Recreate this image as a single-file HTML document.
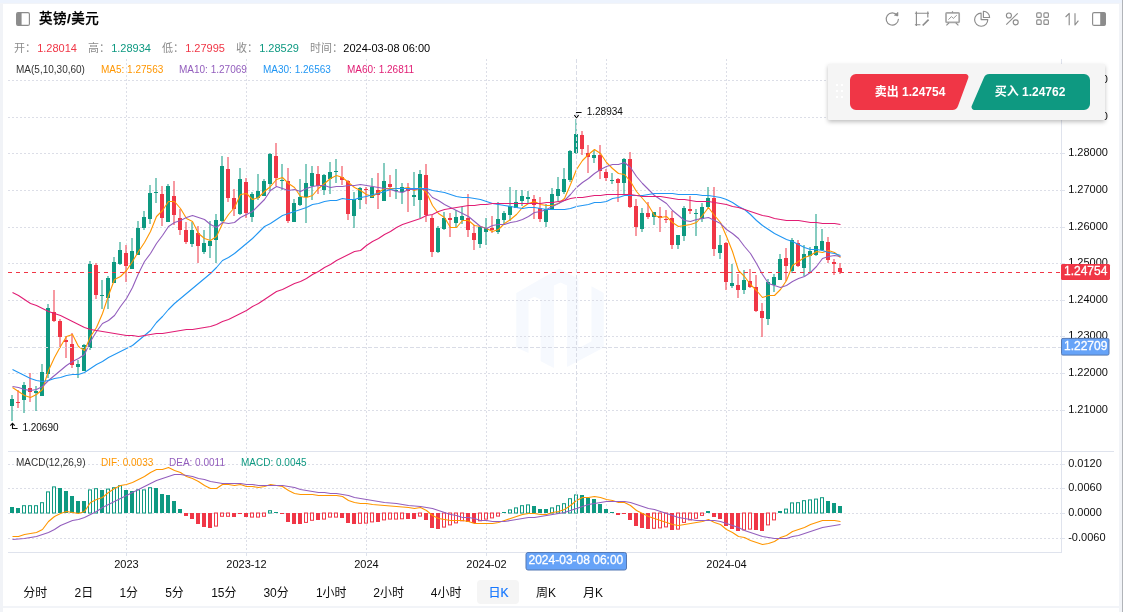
<!DOCTYPE html>
<html lang="zh-CN"><head><meta charset="utf-8"><title>英镑/美元</title>
<style>
html,body{margin:0;padding:0}
body{width:1123px;height:612px;overflow:hidden;position:relative;background:#fff;font-family:"Liberation Sans","Noto Sans CJK SC",sans-serif;color:#1f1f1f}
.abs{position:absolute}
svg text{font-family:"Liberation Sans","Noto Sans CJK SC",sans-serif}
.title{left:39px;top:8.7px;font-size:13.5px;letter-spacing:0.5px;font-weight:500;line-height:20px;color:#000;white-space:nowrap;-webkit-text-stroke:0.25px #000}
.info{left:15px;top:40px;font-size:11px;line-height:16px;white-space:nowrap;color:#8c8c8c}
.info span.i{position:absolute;top:0;white-space:nowrap}
.info b{font-weight:normal}
.info .r{color:#f03646} .info .g{color:#0e9981} .info .k{color:#000}
.tabs{left:13px;top:580px;height:24px;white-space:nowrap;font-size:12px}
.tab{position:absolute;top:0;height:24px;line-height:26px;padding:0 10px;border-radius:4px;color:#0d0d0d}
.tab.on{background:#f5f5f5;color:#1677ff;padding:0 10.3px 0 11.3px;-webkit-text-stroke:0.2px #1677ff}
.panel{left:828px;top:64px;width:276.5px;height:56px;background:#f5f5f5;border-radius:1px;box-shadow:0 2px 4px rgba(0,0,0,.25)}
.btn{position:absolute;top:10px;height:36px;line-height:36px;color:#fff;font-size:12px;font-weight:bold;text-align:center;white-space:nowrap}
</style></head>
<body>
<div class="abs" style="left:0;top:0;width:1123px;height:3px;background:#edf3fd"></div>
<div class="abs" style="left:0;top:3px;width:1123px;height:1px;background:#f2f4f8"></div>
<div class="abs" style="left:0;top:4px;width:3px;height:608px;background:#f1f3f7"></div>
<div class="abs" style="left:1119px;top:4px;width:4px;height:608px;background:#f2f4f8"></div>
<div class="abs" style="left:1122px;top:0;width:1px;height:612px;background:#b1b4b9"></div>
<div class="abs" style="left:3px;top:606px;width:1116px;height:2px;background:#f2f4f8"></div>

<svg class="abs" style="left:0;top:0" width="1123" height="40" viewBox="0 0 1123 40" fill="none" stroke="#8c8c8c" stroke-width="1.15" stroke-linejoin="round">
  <!-- left panel icon -->
  <rect x="16.6" y="12.6" width="12.8" height="12.8" rx="1.5"/>
  <path d="M17 13.5 a1 1 0 0 1 1 -1 h3.6 v13 h-3.6 a1 1 0 0 1 -1 -1 z" fill="#8c8c8c" stroke="none"/>
  <!-- refresh -->
  <path d="M897.2 15.4 A6.1 6.1 0 1 0 898.4 19.3" stroke-linecap="round"/>
  <path d="M898 12.3 L897.9 16 L894.3 15.2 Z" fill="#8c8c8c" stroke-width="0.6"/>
  <!-- edit box -->
  <path d="M916.4 11.6 V26 M914.9 13.2 H929 M927.8 11.6 V17.6 M914.9 24.7 H920.4"/>
  <path d="M922.7 25.5 L928.6 19.6" stroke-width="1.7"/>
  <!-- presentation -->
  <rect x="946" y="12.9" width="13.2" height="9.4" rx="0.8" stroke="#a6a6a6" stroke-width="1.7"/>
  <path d="M952.5 11.2 V12.6 M949 22.8 L946.4 25.4 M955.8 22.8 L958.4 25.4" />
  <path d="M948.4 19.6 L951.5 16.6 L953.3 18.4 L956.8 15.2" stroke-width="0.9"/>
  <!-- pie -->
  <path d="M981.1 13.1 A6.6 6.6 0 1 0 987.8 19.6 H981.1 Z"/>
  <path d="M983.4 11.3 A6.1 6.1 0 0 1 989.6 17.5 H983.4 Z"/>
  <!-- percent -->
  <circle cx="1008.9" cy="15.5" r="2.5"/>
  <circle cx="1015.7" cy="22.3" r="2.5"/>
  <path d="M1017.7 13.3 L1006.3 24.7"/>
  <!-- grid -->
  <rect x="1036.7" y="12.8" width="4.5" height="4.5" rx="1"/>
  <rect x="1043.9" y="12.8" width="4.5" height="4.5" rx="1"/>
  <rect x="1036.7" y="19.9" width="4.5" height="4.5" rx="1"/>
  <rect x="1043.9" y="19.9" width="4.5" height="4.5" rx="1"/>
  <!-- sort -->
  <path d="M1069.2 25.2 V13.3 L1065.6 17 M1075 13.2 V25 L1078.4 20.6"/>
  <!-- right panel icon -->
  <rect x="1092.6" y="12.6" width="12.8" height="12.8" rx="1.5"/>
  <path d="M1100.2 12.5 h3.8 a1.5 1.5 0 0 1 1.5 1.5 v10 a1.5 1.5 0 0 1 -1.5 1.5 h-3.8 z" fill="#8c8c8c" stroke="none"/>
</svg>

<div class="abs title">英镑<b>/</b>美元</div>
<div class="abs info">
<span class="i" style="left:-1px">开：</span><span class="i r" style="left:22.2px">1.28014</span>
<span class="i" style="left:73px">高：</span><span class="i g" style="left:96.2px">1.28934</span>
<span class="i" style="left:147px">低：</span><span class="i r" style="left:170.2px">1.27995</span>
<span class="i" style="left:221px">收：</span><span class="i g" style="left:244.2px">1.28529</span>
<span class="i" style="left:295px">时间：</span><span class="i k" style="left:328.3px">2024-03-08 06:00</span>
</div>
<svg class="abs" style="left:0;top:0" width="1123" height="612" viewBox="0 0 1123 612">
<path fill="#f6f9fe" d="M516.3,292.9 L528.5,285.9 L528.5,353.1 L516.3,347.4Z M528.5,285.9 L540.7,279.1 L540.7,299.5 L534.5,296.7 L528.5,299.5Z M540.7,279.1 L553.9,271.7 L553.9,367.9 L540.7,361.2Z M553.9,271.7 L559.5,268.5 L567.1,272.8 L567.1,285.4 L560.5,282.6 L553.9,285.4Z M567.1,272.8 L578.3,278.8 L578.3,361.0 L567.1,367.0Z M591.5,286.3 L603.7,292.9 L603.7,347.4 L578.3,361.0 L578.3,348.4 L591.5,341.2Z"/>
<line x1="8" x2="1061" y1="80.5" y2="80.5" stroke="#dcdee7" stroke-width="1" stroke-dasharray="2 2"/>
<line x1="8" x2="1061" y1="117.5" y2="117.5" stroke="#dcdee7" stroke-width="1" stroke-dasharray="2 2"/>
<line x1="8" x2="1061" y1="153.5" y2="153.5" stroke="#dcdee7" stroke-width="1" stroke-dasharray="2 2"/>
<line x1="8" x2="1061" y1="190.5" y2="190.5" stroke="#dcdee7" stroke-width="1" stroke-dasharray="2 2"/>
<line x1="8" x2="1061" y1="227.5" y2="227.5" stroke="#dcdee7" stroke-width="1" stroke-dasharray="2 2"/>
<line x1="8" x2="1061" y1="263.5" y2="263.5" stroke="#dcdee7" stroke-width="1" stroke-dasharray="2 2"/>
<line x1="8" x2="1061" y1="300.5" y2="300.5" stroke="#dcdee7" stroke-width="1" stroke-dasharray="2 2"/>
<line x1="8" x2="1061" y1="336.5" y2="336.5" stroke="#dcdee7" stroke-width="1" stroke-dasharray="2 2"/>
<line x1="8" x2="1061" y1="373.5" y2="373.5" stroke="#dcdee7" stroke-width="1" stroke-dasharray="2 2"/>
<line x1="8" x2="1061" y1="410.5" y2="410.5" stroke="#dcdee7" stroke-width="1" stroke-dasharray="2 2"/>
<line x1="8" x2="1061" y1="464.5" y2="464.5" stroke="#dcdee7" stroke-width="1" stroke-dasharray="2 2"/>
<line x1="8" x2="1061" y1="488.5" y2="488.5" stroke="#dcdee7" stroke-width="1" stroke-dasharray="2 2"/>
<line x1="8" x2="1061" y1="513.5" y2="513.5" stroke="#dcdee7" stroke-width="1" stroke-dasharray="2 2"/>
<line x1="8" x2="1061" y1="538.5" y2="538.5" stroke="#dcdee7" stroke-width="1" stroke-dasharray="2 2"/>
<line x1="126.5" x2="126.5" y1="59" y2="451" stroke="#dcdee7" stroke-width="1" stroke-dasharray="2 2"/>
<line x1="126.5" x2="126.5" y1="452" y2="552" stroke="#dcdee7" stroke-width="1" stroke-dasharray="2 2"/>
<line x1="246.5" x2="246.5" y1="59" y2="451" stroke="#dcdee7" stroke-width="1" stroke-dasharray="2 2"/>
<line x1="246.5" x2="246.5" y1="452" y2="552" stroke="#dcdee7" stroke-width="1" stroke-dasharray="2 2"/>
<line x1="366.5" x2="366.5" y1="59" y2="451" stroke="#dcdee7" stroke-width="1" stroke-dasharray="2 2"/>
<line x1="366.5" x2="366.5" y1="452" y2="552" stroke="#dcdee7" stroke-width="1" stroke-dasharray="2 2"/>
<line x1="486.5" x2="486.5" y1="59" y2="451" stroke="#dcdee7" stroke-width="1" stroke-dasharray="2 2"/>
<line x1="486.5" x2="486.5" y1="452" y2="552" stroke="#dcdee7" stroke-width="1" stroke-dasharray="2 2"/>
<line x1="606.5" x2="606.5" y1="59" y2="451" stroke="#dcdee7" stroke-width="1" stroke-dasharray="2 2"/>
<line x1="606.5" x2="606.5" y1="452" y2="552" stroke="#dcdee7" stroke-width="1" stroke-dasharray="2 2"/>
<line x1="726.5" x2="726.5" y1="59" y2="451" stroke="#dcdee7" stroke-width="1" stroke-dasharray="2 2"/>
<line x1="726.5" x2="726.5" y1="452" y2="552" stroke="#dcdee7" stroke-width="1" stroke-dasharray="2 2"/>
<rect x="8" y="451" width="1106" height="1" fill="#dfe3ed"/>
<rect x="1061" y="59" width="1" height="494" fill="#dfe3ed"/>
<rect x="8" y="552" width="1054" height="1" fill="#dfe3ed"/>
<rect x="1062" y="80" width="3" height="1" fill="#dfe3ed"/>
<rect x="1062" y="117" width="3" height="1" fill="#dfe3ed"/>
<rect x="1062" y="153" width="3" height="1" fill="#dfe3ed"/>
<rect x="1062" y="190" width="3" height="1" fill="#dfe3ed"/>
<rect x="1062" y="227" width="3" height="1" fill="#dfe3ed"/>
<rect x="1062" y="263" width="3" height="1" fill="#dfe3ed"/>
<rect x="1062" y="300" width="3" height="1" fill="#dfe3ed"/>
<rect x="1062" y="336" width="3" height="1" fill="#dfe3ed"/>
<rect x="1062" y="373" width="3" height="1" fill="#dfe3ed"/>
<rect x="1062" y="410" width="3" height="1" fill="#dfe3ed"/>
<rect x="1062" y="464" width="3" height="1" fill="#dfe3ed"/>
<rect x="1062" y="488" width="3" height="1" fill="#dfe3ed"/>
<rect x="1062" y="513" width="3" height="1" fill="#dfe3ed"/>
<rect x="1062" y="538" width="3" height="1" fill="#dfe3ed"/>
<rect x="126" y="553" width="1" height="3" fill="#dfe3ed"/>
<rect x="246" y="553" width="1" height="3" fill="#dfe3ed"/>
<rect x="366" y="553" width="1" height="3" fill="#dfe3ed"/>
<rect x="486" y="553" width="1" height="3" fill="#dfe3ed"/>
<rect x="606" y="553" width="1" height="3" fill="#dfe3ed"/>
<rect x="726" y="553" width="1" height="3" fill="#dfe3ed"/>
<rect x="11.5" y="395.0" width="1" height="26.0" fill="#0e9981"/>
<rect x="10" y="399.0" width="4" height="7.0" fill="#0e9981"/>
<rect x="17.5" y="390.0" width="1" height="18.0" fill="#f03646"/>
<rect x="16" y="402.0" width="4" height="1.0" fill="#f03646"/>
<rect x="23.5" y="382.0" width="1" height="31.0" fill="#0e9981"/>
<rect x="22" y="385.0" width="4" height="15.0" fill="#0e9981"/>
<rect x="29.5" y="373.0" width="1" height="29.0" fill="#f03646"/>
<rect x="28" y="388.0" width="4" height="4.0" fill="#f03646"/>
<rect x="35.5" y="386.0" width="1" height="25.0" fill="#0e9981"/>
<rect x="34" y="391.0" width="4" height="2.0" fill="#0e9981"/>
<rect x="41.5" y="364.0" width="1" height="32.0" fill="#0e9981"/>
<rect x="40" y="372.0" width="4" height="24.0" fill="#0e9981"/>
<rect x="47.5" y="304.0" width="1" height="74.0" fill="#0e9981"/>
<rect x="46" y="308.0" width="4" height="66.0" fill="#0e9981"/>
<rect x="53.5" y="290.0" width="1" height="32.0" fill="#f03646"/>
<rect x="52" y="312.0" width="4" height="9.0" fill="#f03646"/>
<rect x="59.5" y="319.0" width="1" height="29.0" fill="#f03646"/>
<rect x="58" y="321.0" width="4" height="16.0" fill="#f03646"/>
<rect x="65.5" y="336.0" width="1" height="22.0" fill="#f03646"/>
<rect x="64" y="340.0" width="4" height="2.0" fill="#f03646"/>
<rect x="71.5" y="333.0" width="1" height="35.0" fill="#f03646"/>
<rect x="70" y="344.0" width="4" height="21.0" fill="#f03646"/>
<rect x="77.5" y="360.0" width="1" height="18.0" fill="#0e9981"/>
<rect x="76" y="364.0" width="4" height="3.0" fill="#0e9981"/>
<rect x="83.5" y="344.0" width="1" height="27.0" fill="#0e9981"/>
<rect x="82" y="345.0" width="4" height="26.0" fill="#0e9981"/>
<rect x="89.5" y="261.0" width="1" height="89.0" fill="#0e9981"/>
<rect x="88" y="264.0" width="4" height="84.0" fill="#0e9981"/>
<rect x="95.5" y="263.0" width="1" height="36.0" fill="#f03646"/>
<rect x="94" y="265.0" width="4" height="30.0" fill="#f03646"/>
<rect x="101.5" y="280.0" width="1" height="29.0" fill="#0e9981"/>
<rect x="100" y="295.0" width="4" height="1.0" fill="#0e9981"/>
<rect x="107.5" y="276.0" width="1" height="33.0" fill="#0e9981"/>
<rect x="106" y="278.0" width="4" height="20.0" fill="#0e9981"/>
<rect x="113.5" y="257.0" width="1" height="26.0" fill="#0e9981"/>
<rect x="112" y="262.0" width="4" height="21.0" fill="#0e9981"/>
<rect x="119.5" y="242.0" width="1" height="23.0" fill="#0e9981"/>
<rect x="118" y="250.0" width="4" height="14.0" fill="#0e9981"/>
<rect x="125.5" y="245.0" width="1" height="37.0" fill="#f03646"/>
<rect x="124" y="253.0" width="4" height="13.0" fill="#f03646"/>
<rect x="131.5" y="238.0" width="1" height="31.0" fill="#0e9981"/>
<rect x="130" y="251.0" width="4" height="18.0" fill="#0e9981"/>
<rect x="137.5" y="221.0" width="1" height="34.0" fill="#0e9981"/>
<rect x="136" y="228.0" width="4" height="27.0" fill="#0e9981"/>
<rect x="143.5" y="211.0" width="1" height="19.0" fill="#0e9981"/>
<rect x="142" y="217.0" width="4" height="11.0" fill="#0e9981"/>
<rect x="149.5" y="185.0" width="1" height="39.0" fill="#0e9981"/>
<rect x="148" y="193.0" width="4" height="26.0" fill="#0e9981"/>
<rect x="155.5" y="178.0" width="1" height="25.0" fill="#0e9981"/>
<rect x="154" y="192.0" width="4" height="1.0" fill="#0e9981"/>
<rect x="161.5" y="186.0" width="1" height="40.0" fill="#f03646"/>
<rect x="160" y="194.0" width="4" height="24.0" fill="#f03646"/>
<rect x="167.5" y="184.0" width="1" height="38.0" fill="#0e9981"/>
<rect x="166" y="186.0" width="4" height="36.0" fill="#0e9981"/>
<rect x="173.5" y="181.0" width="1" height="44.0" fill="#f03646"/>
<rect x="172" y="196.0" width="4" height="19.0" fill="#f03646"/>
<rect x="179.5" y="209.0" width="1" height="26.0" fill="#f03646"/>
<rect x="178" y="218.0" width="4" height="12.0" fill="#f03646"/>
<rect x="185.5" y="222.0" width="1" height="22.0" fill="#f03646"/>
<rect x="184" y="230.0" width="4" height="12.0" fill="#f03646"/>
<rect x="191.5" y="222.0" width="1" height="25.0" fill="#0e9981"/>
<rect x="190" y="230.0" width="4" height="14.0" fill="#0e9981"/>
<rect x="197.5" y="226.0" width="1" height="37.0" fill="#f03646"/>
<rect x="196" y="233.0" width="4" height="13.0" fill="#f03646"/>
<rect x="203.5" y="230.0" width="1" height="24.0" fill="#0e9981"/>
<rect x="202" y="243.0" width="4" height="9.0" fill="#0e9981"/>
<rect x="209.5" y="221.0" width="1" height="37.0" fill="#0e9981"/>
<rect x="208" y="241.0" width="4" height="5.0" fill="#0e9981"/>
<rect x="215.5" y="214.0" width="1" height="49.0" fill="#0e9981"/>
<rect x="214" y="220.0" width="4" height="20.0" fill="#0e9981"/>
<rect x="221.5" y="156.0" width="1" height="66.0" fill="#0e9981"/>
<rect x="220" y="166.0" width="4" height="55.0" fill="#0e9981"/>
<rect x="227.5" y="157.0" width="1" height="45.0" fill="#f03646"/>
<rect x="226" y="169.0" width="4" height="29.0" fill="#f03646"/>
<rect x="233.5" y="189.0" width="1" height="27.0" fill="#f03646"/>
<rect x="232" y="198.0" width="4" height="11.0" fill="#f03646"/>
<rect x="239.5" y="168.0" width="1" height="47.0" fill="#0e9981"/>
<rect x="238" y="179.0" width="4" height="35.0" fill="#0e9981"/>
<rect x="245.5" y="178.0" width="1" height="40.0" fill="#f03646"/>
<rect x="244" y="182.0" width="4" height="31.0" fill="#f03646"/>
<rect x="251.5" y="192.0" width="1" height="30.0" fill="#0e9981"/>
<rect x="250" y="194.0" width="4" height="23.0" fill="#0e9981"/>
<rect x="257.5" y="174.0" width="1" height="26.0" fill="#0e9981"/>
<rect x="256" y="191.0" width="4" height="7.0" fill="#0e9981"/>
<rect x="263.5" y="179.0" width="1" height="17.0" fill="#0e9981"/>
<rect x="262" y="181.0" width="4" height="15.0" fill="#0e9981"/>
<rect x="269.5" y="153.0" width="1" height="38.0" fill="#0e9981"/>
<rect x="268" y="154.0" width="4" height="30.0" fill="#0e9981"/>
<rect x="275.5" y="143.0" width="1" height="43.0" fill="#f03646"/>
<rect x="274" y="156.0" width="4" height="22.0" fill="#f03646"/>
<rect x="281.5" y="164.0" width="1" height="26.0" fill="#0e9981"/>
<rect x="280" y="180.0" width="4" height="1.0" fill="#0e9981"/>
<rect x="287.5" y="168.0" width="1" height="55.0" fill="#f03646"/>
<rect x="286" y="181.0" width="4" height="40.0" fill="#f03646"/>
<rect x="293.5" y="199.0" width="1" height="23.0" fill="#0e9981"/>
<rect x="292" y="203.0" width="4" height="19.0" fill="#0e9981"/>
<rect x="299.5" y="179.0" width="1" height="27.0" fill="#0e9981"/>
<rect x="298" y="197.0" width="4" height="8.0" fill="#0e9981"/>
<rect x="305.5" y="164.0" width="1" height="59.0" fill="#0e9981"/>
<rect x="304" y="183.0" width="4" height="14.0" fill="#0e9981"/>
<rect x="311.5" y="166.0" width="1" height="34.0" fill="#0e9981"/>
<rect x="310" y="173.0" width="4" height="13.0" fill="#0e9981"/>
<rect x="317.5" y="166.0" width="1" height="28.0" fill="#f03646"/>
<rect x="316" y="174.0" width="4" height="12.0" fill="#f03646"/>
<rect x="323.5" y="174.0" width="1" height="21.0" fill="#0e9981"/>
<rect x="322" y="175.0" width="4" height="15.0" fill="#0e9981"/>
<rect x="329.5" y="162.0" width="1" height="32.0" fill="#0e9981"/>
<rect x="328" y="172.0" width="4" height="7.0" fill="#0e9981"/>
<rect x="335.5" y="159.0" width="1" height="24.0" fill="#0e9981"/>
<rect x="334" y="171.0" width="4" height="1.0" fill="#0e9981"/>
<rect x="341.5" y="166.0" width="1" height="19.0" fill="#f03646"/>
<rect x="340" y="177.0" width="4" height="3.0" fill="#f03646"/>
<rect x="347.5" y="180.0" width="1" height="40.0" fill="#f03646"/>
<rect x="346" y="181.0" width="4" height="33.0" fill="#f03646"/>
<rect x="353.5" y="192.0" width="1" height="36.0" fill="#0e9981"/>
<rect x="352" y="199.0" width="4" height="17.0" fill="#0e9981"/>
<rect x="359.5" y="187.0" width="1" height="22.0" fill="#0e9981"/>
<rect x="358" y="188.0" width="4" height="12.0" fill="#0e9981"/>
<rect x="365.5" y="187.0" width="1" height="17.0" fill="#f03646"/>
<rect x="364" y="189.0" width="4" height="1.0" fill="#f03646"/>
<rect x="371.5" y="178.0" width="1" height="20.0" fill="#0e9981"/>
<rect x="370" y="187.0" width="4" height="11.0" fill="#0e9981"/>
<rect x="377.5" y="173.0" width="1" height="36.0" fill="#f03646"/>
<rect x="376" y="190.0" width="4" height="5.0" fill="#f03646"/>
<rect x="383.5" y="163.0" width="1" height="38.0" fill="#0e9981"/>
<rect x="382" y="181.0" width="4" height="20.0" fill="#0e9981"/>
<rect x="389.5" y="175.0" width="1" height="22.0" fill="#f03646"/>
<rect x="388" y="184.0" width="4" height="3.0" fill="#f03646"/>
<rect x="395.5" y="169.0" width="1" height="30.0" fill="#0e9981"/>
<rect x="394" y="190.0" width="4" height="1.0" fill="#0e9981"/>
<rect x="401.5" y="183.0" width="1" height="21.0" fill="#0e9981"/>
<rect x="400" y="187.0" width="4" height="5.0" fill="#0e9981"/>
<rect x="407.5" y="183.0" width="1" height="29.0" fill="#f03646"/>
<rect x="406" y="189.0" width="4" height="2.0" fill="#f03646"/>
<rect x="413.5" y="172.0" width="1" height="34.0" fill="#0e9981"/>
<rect x="412" y="195.0" width="4" height="2.0" fill="#0e9981"/>
<rect x="419.5" y="170.0" width="1" height="48.0" fill="#0e9981"/>
<rect x="418" y="174.0" width="4" height="26.0" fill="#0e9981"/>
<rect x="425.5" y="164.0" width="1" height="58.0" fill="#f03646"/>
<rect x="424" y="175.0" width="4" height="40.0" fill="#f03646"/>
<rect x="431.5" y="215.0" width="1" height="42.0" fill="#f03646"/>
<rect x="430" y="218.0" width="4" height="34.0" fill="#f03646"/>
<rect x="437.5" y="226.0" width="1" height="27.0" fill="#0e9981"/>
<rect x="436" y="228.0" width="4" height="24.0" fill="#0e9981"/>
<rect x="443.5" y="212.0" width="1" height="18.0" fill="#0e9981"/>
<rect x="442" y="218.0" width="4" height="11.0" fill="#0e9981"/>
<rect x="449.5" y="213.0" width="1" height="24.0" fill="#f03646"/>
<rect x="448" y="218.0" width="4" height="2.0" fill="#f03646"/>
<rect x="455.5" y="210.0" width="1" height="17.0" fill="#0e9981"/>
<rect x="454" y="217.0" width="4" height="6.0" fill="#0e9981"/>
<rect x="461.5" y="207.0" width="1" height="17.0" fill="#0e9981"/>
<rect x="460" y="216.0" width="4" height="4.0" fill="#0e9981"/>
<rect x="467.5" y="194.0" width="1" height="43.0" fill="#f03646"/>
<rect x="466" y="218.0" width="4" height="12.0" fill="#f03646"/>
<rect x="473.5" y="225.0" width="1" height="25.0" fill="#f03646"/>
<rect x="472" y="233.0" width="4" height="7.0" fill="#f03646"/>
<rect x="479.5" y="227.0" width="1" height="21.0" fill="#0e9981"/>
<rect x="478" y="227.0" width="4" height="17.0" fill="#0e9981"/>
<rect x="485.5" y="218.0" width="1" height="27.0" fill="#0e9981"/>
<rect x="484" y="228.0" width="4" height="4.0" fill="#0e9981"/>
<rect x="491.5" y="216.0" width="1" height="17.0" fill="#f03646"/>
<rect x="490" y="228.0" width="4" height="2.0" fill="#f03646"/>
<rect x="497.5" y="202.0" width="1" height="32.0" fill="#0e9981"/>
<rect x="496" y="219.0" width="4" height="13.0" fill="#0e9981"/>
<rect x="503.5" y="211.0" width="1" height="13.0" fill="#0e9981"/>
<rect x="502" y="213.0" width="4" height="7.0" fill="#0e9981"/>
<rect x="509.5" y="187.0" width="1" height="34.0" fill="#0e9981"/>
<rect x="508" y="206.0" width="4" height="9.0" fill="#0e9981"/>
<rect x="515.5" y="190.0" width="1" height="18.0" fill="#0e9981"/>
<rect x="514" y="202.0" width="4" height="6.0" fill="#0e9981"/>
<rect x="521.5" y="190.0" width="1" height="16.0" fill="#0e9981"/>
<rect x="520" y="196.0" width="4" height="5.0" fill="#0e9981"/>
<rect x="527.5" y="191.0" width="1" height="12.0" fill="#0e9981"/>
<rect x="526" y="197.0" width="4" height="2.0" fill="#0e9981"/>
<rect x="533.5" y="195.0" width="1" height="24.0" fill="#f03646"/>
<rect x="532" y="199.0" width="4" height="6.0" fill="#f03646"/>
<rect x="539.5" y="197.0" width="1" height="25.0" fill="#f03646"/>
<rect x="538" y="208.0" width="4" height="11.0" fill="#f03646"/>
<rect x="545.5" y="204.0" width="1" height="23.0" fill="#0e9981"/>
<rect x="544" y="209.0" width="4" height="13.0" fill="#0e9981"/>
<rect x="551.5" y="188.0" width="1" height="22.0" fill="#0e9981"/>
<rect x="550" y="194.0" width="4" height="16.0" fill="#0e9981"/>
<rect x="557.5" y="177.0" width="1" height="24.0" fill="#0e9981"/>
<rect x="556" y="189.0" width="4" height="7.0" fill="#0e9981"/>
<rect x="563.5" y="168.0" width="1" height="26.0" fill="#0e9981"/>
<rect x="562" y="179.0" width="4" height="13.0" fill="#0e9981"/>
<rect x="569.5" y="150.0" width="1" height="32.0" fill="#0e9981"/>
<rect x="568" y="151.0" width="4" height="29.0" fill="#0e9981"/>
<rect x="575.5" y="119.0" width="1" height="35.0" fill="#0e9981"/>
<rect x="574" y="134.0" width="4" height="19.0" fill="#0e9981"/>
<rect x="581.5" y="131.0" width="1" height="24.0" fill="#f03646"/>
<rect x="580" y="135.0" width="4" height="14.0" fill="#f03646"/>
<rect x="587.5" y="145.0" width="1" height="28.0" fill="#f03646"/>
<rect x="586" y="153.0" width="4" height="4.0" fill="#f03646"/>
<rect x="593.5" y="150.0" width="1" height="13.0" fill="#0e9981"/>
<rect x="592" y="155.0" width="4" height="3.0" fill="#0e9981"/>
<rect x="599.5" y="145.0" width="1" height="34.0" fill="#f03646"/>
<rect x="598" y="155.0" width="4" height="16.0" fill="#f03646"/>
<rect x="605.5" y="169.0" width="1" height="12.0" fill="#f03646"/>
<rect x="604" y="172.0" width="4" height="6.0" fill="#f03646"/>
<rect x="611.5" y="173.0" width="1" height="11.0" fill="#0e9981"/>
<rect x="610" y="180.0" width="4" height="1.0" fill="#0e9981"/>
<rect x="617.5" y="178.0" width="1" height="24.0" fill="#f03646"/>
<rect x="616" y="179.0" width="4" height="4.0" fill="#f03646"/>
<rect x="623.5" y="158.0" width="1" height="36.0" fill="#0e9981"/>
<rect x="622" y="159.0" width="4" height="24.0" fill="#0e9981"/>
<rect x="629.5" y="152.0" width="1" height="56.0" fill="#f03646"/>
<rect x="628" y="159.0" width="4" height="48.0" fill="#f03646"/>
<rect x="635.5" y="199.0" width="1" height="37.0" fill="#f03646"/>
<rect x="634" y="206.0" width="4" height="21.0" fill="#f03646"/>
<rect x="641.5" y="208.0" width="1" height="24.0" fill="#0e9981"/>
<rect x="640" y="213.0" width="4" height="16.0" fill="#0e9981"/>
<rect x="647.5" y="202.0" width="1" height="17.0" fill="#f03646"/>
<rect x="646" y="213.0" width="4" height="4.0" fill="#f03646"/>
<rect x="653.5" y="212.0" width="1" height="13.0" fill="#0e9981"/>
<rect x="652" y="212.0" width="4" height="5.0" fill="#0e9981"/>
<rect x="659.5" y="207.0" width="1" height="25.0" fill="#f03646"/>
<rect x="658" y="216.0" width="4" height="2.0" fill="#f03646"/>
<rect x="665.5" y="210.0" width="1" height="13.0" fill="#f03646"/>
<rect x="664" y="219.0" width="4" height="1.0" fill="#f03646"/>
<rect x="671.5" y="211.0" width="1" height="38.0" fill="#f03646"/>
<rect x="670" y="218.0" width="4" height="27.0" fill="#f03646"/>
<rect x="677.5" y="235.0" width="1" height="14.0" fill="#0e9981"/>
<rect x="676" y="235.0" width="4" height="10.0" fill="#0e9981"/>
<rect x="683.5" y="206.0" width="1" height="35.0" fill="#0e9981"/>
<rect x="682" y="208.0" width="4" height="28.0" fill="#0e9981"/>
<rect x="689.5" y="196.0" width="1" height="18.0" fill="#f03646"/>
<rect x="688" y="209.0" width="4" height="2.0" fill="#f03646"/>
<rect x="695.5" y="209.0" width="1" height="27.0" fill="#0e9981"/>
<rect x="694" y="213.0" width="4" height="1.0" fill="#0e9981"/>
<rect x="701.5" y="203.0" width="1" height="19.0" fill="#0e9981"/>
<rect x="700" y="207.0" width="4" height="12.0" fill="#0e9981"/>
<rect x="707.5" y="187.0" width="1" height="22.0" fill="#0e9981"/>
<rect x="706" y="198.0" width="4" height="9.0" fill="#0e9981"/>
<rect x="713.5" y="187.0" width="1" height="69.0" fill="#f03646"/>
<rect x="712" y="198.0" width="4" height="51.0" fill="#f03646"/>
<rect x="719.5" y="235.0" width="1" height="24.0" fill="#0e9981"/>
<rect x="718" y="245.0" width="4" height="8.0" fill="#0e9981"/>
<rect x="725.5" y="242.0" width="1" height="48.0" fill="#f03646"/>
<rect x="724" y="243.0" width="4" height="39.0" fill="#f03646"/>
<rect x="731.5" y="264.0" width="1" height="24.0" fill="#0e9981"/>
<rect x="730" y="283.0" width="4" height="3.0" fill="#0e9981"/>
<rect x="737.5" y="274.0" width="1" height="24.0" fill="#f03646"/>
<rect x="736" y="285.0" width="4" height="5.0" fill="#f03646"/>
<rect x="743.5" y="270.0" width="1" height="24.0" fill="#0e9981"/>
<rect x="742" y="280.0" width="4" height="10.0" fill="#0e9981"/>
<rect x="749.5" y="269.0" width="1" height="19.0" fill="#f03646"/>
<rect x="748" y="281.0" width="4" height="6.0" fill="#f03646"/>
<rect x="755.5" y="275.0" width="1" height="37.0" fill="#f03646"/>
<rect x="754" y="287.0" width="4" height="24.0" fill="#f03646"/>
<rect x="761.5" y="303.0" width="1" height="34.0" fill="#f03646"/>
<rect x="760" y="311.0" width="4" height="7.0" fill="#f03646"/>
<rect x="767.5" y="279.0" width="1" height="46.0" fill="#0e9981"/>
<rect x="766" y="282.0" width="4" height="37.0" fill="#0e9981"/>
<rect x="773.5" y="274.0" width="1" height="18.0" fill="#0e9981"/>
<rect x="772" y="277.0" width="4" height="8.0" fill="#0e9981"/>
<rect x="779.5" y="254.0" width="1" height="26.0" fill="#0e9981"/>
<rect x="778" y="259.0" width="4" height="21.0" fill="#0e9981"/>
<rect x="785.5" y="248.0" width="1" height="33.0" fill="#f03646"/>
<rect x="784" y="258.0" width="4" height="8.0" fill="#f03646"/>
<rect x="791.5" y="238.0" width="1" height="35.0" fill="#0e9981"/>
<rect x="790" y="240.0" width="4" height="31.0" fill="#0e9981"/>
<rect x="797.5" y="240.0" width="1" height="27.0" fill="#f03646"/>
<rect x="796" y="243.0" width="4" height="23.0" fill="#f03646"/>
<rect x="803.5" y="245.0" width="1" height="31.0" fill="#0e9981"/>
<rect x="802" y="254.0" width="4" height="14.0" fill="#0e9981"/>
<rect x="809.5" y="247.0" width="1" height="26.0" fill="#0e9981"/>
<rect x="808" y="251.0" width="4" height="5.0" fill="#0e9981"/>
<rect x="815.5" y="214.0" width="1" height="42.0" fill="#0e9981"/>
<rect x="814" y="246.0" width="4" height="9.0" fill="#0e9981"/>
<rect x="821.5" y="229.0" width="1" height="22.0" fill="#0e9981"/>
<rect x="820" y="241.0" width="4" height="9.0" fill="#0e9981"/>
<rect x="827.5" y="237.0" width="1" height="26.0" fill="#f03646"/>
<rect x="826" y="242.0" width="4" height="18.0" fill="#f03646"/>
<rect x="833.5" y="259.0" width="1" height="16.0" fill="#f03646"/>
<rect x="832" y="262.0" width="4" height="2.0" fill="#f03646"/>
<rect x="839.5" y="263.0" width="1" height="11.0" fill="#f03646"/>
<rect x="838" y="268.0" width="4" height="4.0" fill="#f03646"/>
<polyline points="12.5,387.5 18.5,391.5 24.5,395.5 30.5,397.5 36.5,394.5 42.5,389.5 48.5,370.5 54.5,357.5 60.5,346.5 66.5,336.5 72.5,334.5 78.5,346.5 84.5,350.5 90.5,336.5 96.5,327.5 102.5,313.5 108.5,295.5 114.5,279.5 120.5,276.5 126.5,270.5 132.5,261.5 138.5,251.5 144.5,242.5 150.5,231.5 156.5,216.5 162.5,210.5 168.5,201.5 174.5,201.5 180.5,208.5 186.5,218.5 192.5,221.5 198.5,233.5 204.5,238.5 210.5,240.5 216.5,236.5 222.5,223.5 228.5,214.5 234.5,207.5 240.5,194.5 246.5,193.5 252.5,199.5 258.5,197.5 264.5,191.5 270.5,186.5 276.5,179.5 282.5,177.5 288.5,183.5 294.5,187.5 300.5,196.5 306.5,197.5 312.5,195.5 318.5,188.5 324.5,183.5 330.5,178.5 336.5,175.5 342.5,177.5 348.5,182.5 354.5,187.5 360.5,190.5 366.5,194.5 372.5,196.5 378.5,192.5 384.5,188.5 390.5,188.5 396.5,188.5 402.5,188.5 408.5,187.5 414.5,190.5 420.5,187.5 426.5,192.5 432.5,205.5 438.5,213.5 444.5,217.5 450.5,227.5 456.5,227.5 462.5,220.5 468.5,220.5 474.5,225.5 480.5,226.5 486.5,228.5 492.5,231.5 498.5,229.5 504.5,223.5 510.5,219.5 516.5,214.5 522.5,207.5 528.5,203.5 534.5,201.5 540.5,204.5 546.5,205.5 552.5,205.5 558.5,203.5 564.5,198.5 570.5,184.5 576.5,169.5 582.5,160.5 588.5,154.5 594.5,149.5 600.5,153.5 606.5,162.5 612.5,168.5 618.5,173.5 624.5,174.5 630.5,181.5 636.5,191.5 642.5,198.5 648.5,205.5 654.5,215.5 660.5,217.5 666.5,216.5 672.5,222.5 678.5,226.5 684.5,225.5 690.5,224.5 696.5,222.5 702.5,215.5 708.5,207.5 714.5,215.5 720.5,222.5 726.5,236.5 732.5,251.5 738.5,270.5 744.5,276.5 750.5,284.5 756.5,290.5 762.5,297.5 768.5,295.5 774.5,295.5 780.5,289.5 786.5,280.5 792.5,265.5 798.5,261.5 804.5,257.5 810.5,255.5 816.5,251.5 822.5,252.5 828.5,250.5 834.5,252.5 840.5,257.5" fill="none" stroke="#ff9600" stroke-width="1.1" stroke-linejoin="round"/>
<polyline points="12.5,386.5 18.5,387.5 24.5,389.5 30.5,390.5 36.5,389.5 42.5,386.5 48.5,380.5 54.5,375.5 60.5,370.5 66.5,365.5 72.5,361.5 78.5,358.5 84.5,354.5 90.5,341.5 96.5,331.5 102.5,323.5 108.5,320.5 114.5,315.5 120.5,306.5 126.5,298.5 132.5,287.5 138.5,273.5 144.5,261.5 150.5,253.5 156.5,243.5 162.5,235.5 168.5,226.5 174.5,222.5 180.5,220.5 186.5,217.5 192.5,215.5 198.5,217.5 204.5,219.5 210.5,224.5 216.5,227.5 222.5,222.5 228.5,223.5 234.5,222.5 240.5,217.5 246.5,214.5 252.5,211.5 258.5,205.5 264.5,199.5 270.5,190.5 276.5,186.5 282.5,188.5 288.5,190.5 294.5,189.5 300.5,191.5 306.5,188.5 312.5,186.5 318.5,185.5 324.5,185.5 330.5,187.5 336.5,186.5 342.5,186.5 348.5,185.5 354.5,185.5 360.5,184.5 366.5,185.5 372.5,186.5 378.5,187.5 384.5,188.5 390.5,189.5 396.5,191.5 402.5,192.5 408.5,189.5 414.5,189.5 420.5,188.5 426.5,190.5 432.5,197.5 438.5,200.5 444.5,204.5 450.5,207.5 456.5,210.5 462.5,213.5 468.5,216.5 474.5,221.5 480.5,226.5 486.5,228.5 492.5,225.5 498.5,224.5 504.5,224.5 510.5,222.5 516.5,221.5 522.5,219.5 528.5,216.5 534.5,212.5 540.5,211.5 546.5,209.5 552.5,206.5 558.5,203.5 564.5,200.5 570.5,194.5 576.5,187.5 582.5,182.5 588.5,178.5 594.5,173.5 600.5,169.5 606.5,166.5 612.5,164.5 618.5,164.5 624.5,162.5 630.5,167.5 636.5,176.5 642.5,183.5 648.5,189.5 654.5,195.5 660.5,199.5 666.5,203.5 672.5,210.5 678.5,215.5 684.5,220.5 690.5,221.5 696.5,219.5 702.5,218.5 708.5,217.5 714.5,220.5 720.5,223.5 726.5,229.5 732.5,233.5 738.5,238.5 744.5,246.5 750.5,253.5 756.5,263.5 762.5,274.5 768.5,283.5 774.5,285.5 780.5,287.5 786.5,285.5 792.5,281.5 798.5,278.5 804.5,276.5 810.5,272.5 816.5,266.5 822.5,258.5 828.5,256.5 834.5,255.5 840.5,256.5" fill="none" stroke="#935ebd" stroke-width="1.1" stroke-linejoin="round"/>
<polyline points="12.5,369.5 18.5,372.5 24.5,375.5 30.5,378.5 36.5,380.5 42.5,381.5 48.5,380.5 54.5,378.5 60.5,377.5 66.5,375.5 72.5,374.5 78.5,374.5 84.5,372.5 90.5,368.5 96.5,364.5 102.5,361.5 108.5,357.5 114.5,354.5 120.5,351.5 126.5,348.5 132.5,345.5 138.5,340.5 144.5,335.5 150.5,330.5 156.5,322.5 162.5,316.5 168.5,309.5 174.5,303.5 180.5,298.5 186.5,293.5 192.5,288.5 198.5,283.5 204.5,278.5 210.5,273.5 216.5,267.5 222.5,260.5 228.5,257.5 234.5,253.5 240.5,248.5 246.5,243.5 252.5,238.5 258.5,232.5 264.5,226.5 270.5,223.5 276.5,219.5 282.5,215.5 288.5,213.5 294.5,211.5 300.5,209.5 306.5,207.5 312.5,204.5 318.5,203.5 324.5,201.5 330.5,200.5 336.5,200.5 342.5,198.5 348.5,199.5 354.5,199.5 360.5,197.5 366.5,196.5 372.5,194.5 378.5,193.5 384.5,191.5 390.5,189.5 396.5,188.5 402.5,188.5 408.5,188.5 414.5,188.5 420.5,188.5 426.5,188.5 432.5,190.5 438.5,191.5 444.5,192.5 450.5,194.5 456.5,196.5 462.5,197.5 468.5,197.5 474.5,198.5 480.5,199.5 486.5,201.5 492.5,203.5 498.5,204.5 504.5,205.5 510.5,206.5 516.5,207.5 522.5,208.5 528.5,207.5 534.5,207.5 540.5,208.5 546.5,209.5 552.5,209.5 558.5,209.5 564.5,209.5 570.5,208.5 576.5,206.5 582.5,205.5 588.5,204.5 594.5,202.5 600.5,202.5 606.5,201.5 612.5,198.5 618.5,197.5 624.5,195.5 630.5,195.5 636.5,195.5 642.5,195.5 648.5,194.5 654.5,193.5 660.5,193.5 666.5,193.5 672.5,193.5 678.5,194.5 684.5,194.5 690.5,194.5 696.5,194.5 702.5,195.5 708.5,195.5 714.5,196.5 720.5,197.5 726.5,199.5 732.5,202.5 738.5,206.5 744.5,209.5 750.5,214.5 756.5,220.5 762.5,225.5 768.5,229.5 774.5,233.5 780.5,236.5 786.5,239.5 792.5,241.5 798.5,244.5 804.5,247.5 810.5,249.5 816.5,249.5 822.5,250.5 828.5,252.5 834.5,253.5 840.5,255.5" fill="none" stroke="#2196f3" stroke-width="1.1" stroke-linejoin="round"/>
<polyline points="12.5,292.5 18.5,295.5 24.5,299.5 30.5,303.5 36.5,305.5 42.5,308.5 48.5,311.5 54.5,313.5 60.5,315.5 66.5,318.5 72.5,321.5 78.5,324.5 84.5,327.5 90.5,329.5 96.5,330.5 102.5,331.5 108.5,332.5 114.5,333.5 120.5,334.5 126.5,335.5 132.5,335.5 138.5,336.5 144.5,335.5 150.5,334.5 156.5,333.5 162.5,333.5 168.5,332.5 174.5,331.5 180.5,330.5 186.5,329.5 192.5,329.5 198.5,328.5 204.5,327.5 210.5,326.5 216.5,324.5 222.5,321.5 228.5,319.5 234.5,316.5 240.5,313.5 246.5,310.5 252.5,306.5 258.5,303.5 264.5,299.5 270.5,295.5 276.5,291.5 282.5,289.5 288.5,286.5 294.5,283.5 300.5,281.5 306.5,278.5 312.5,274.5 318.5,271.5 324.5,267.5 330.5,264.5 336.5,260.5 342.5,257.5 348.5,254.5 354.5,251.5 360.5,250.5 366.5,245.5 372.5,241.5 378.5,238.5 384.5,234.5 390.5,231.5 396.5,227.5 402.5,224.5 408.5,222.5 414.5,220.5 420.5,218.5 426.5,215.5 432.5,214.5 438.5,211.5 444.5,209.5 450.5,208.5 456.5,207.5 462.5,206.5 468.5,205.5 474.5,205.5 480.5,204.5 486.5,204.5 492.5,203.5 498.5,203.5 504.5,203.5 510.5,203.5 516.5,203.5 522.5,203.5 528.5,203.5 534.5,203.5 540.5,203.5 546.5,202.5 552.5,202.5 558.5,201.5 564.5,200.5 570.5,198.5 576.5,197.5 582.5,197.5 588.5,196.5 594.5,195.5 600.5,195.5 606.5,194.5 612.5,194.5 618.5,194.5 624.5,194.5 630.5,194.5 636.5,195.5 642.5,196.5 648.5,196.5 654.5,196.5 660.5,196.5 666.5,197.5 672.5,198.5 678.5,199.5 684.5,199.5 690.5,200.5 696.5,201.5 702.5,201.5 708.5,201.5 714.5,202.5 720.5,203.5 726.5,204.5 732.5,206.5 738.5,207.5 744.5,209.5 750.5,211.5 756.5,213.5 762.5,215.5 768.5,216.5 774.5,218.5 780.5,219.5 786.5,220.5 792.5,220.5 798.5,220.5 804.5,221.5 810.5,222.5 816.5,222.5 822.5,223.5 828.5,223.5 834.5,223.5 840.5,224.5" fill="none" stroke="#e11d74" stroke-width="1.1" stroke-linejoin="round"/>
<path d="M576.5 117.6 V112.5 H581.6 M574.3 115.2 L576.5 117.6 L578.7 115.2" fill="none" stroke="#0d0d0d" stroke-width="1.1"/>
<text x="586.7" y="115" font-size="10" fill="#0d0d0d">1.28934</text>
<path d="M12.5 423.3 V428.5 H17.6 M10.3 425.7 L12.5 423.3 L14.7 425.7" fill="none" stroke="#0d0d0d" stroke-width="1.1"/>
<text x="22.4" y="431" font-size="10" fill="#0d0d0d">1.20690</text>
<line x1="8" x2="1061" y1="272.5" y2="272.5" stroke="#f03646" stroke-width="1" stroke-dasharray="4 4"/>
<rect x="10" y="507.0" width="4" height="6.0" fill="#0e9981"/>
<rect x="16" y="508.0" width="4" height="5.0" fill="#0e9981"/>
<rect x="22.5" y="505.7" width="3" height="7.3" fill="none" stroke="#0e9981" stroke-width="1"/>
<rect x="28.5" y="505.7" width="3" height="7.3" fill="none" stroke="#0e9981" stroke-width="1"/>
<rect x="34.5" y="505.7" width="3" height="7.3" fill="none" stroke="#0e9981" stroke-width="1"/>
<rect x="40.5" y="502.7" width="3" height="10.3" fill="none" stroke="#0e9981" stroke-width="1"/>
<rect x="46.5" y="491.9" width="3" height="21.1" fill="none" stroke="#0e9981" stroke-width="1"/>
<rect x="52.5" y="486.9" width="3" height="26.1" fill="none" stroke="#0e9981" stroke-width="1"/>
<rect x="58" y="488.0" width="4" height="25.0" fill="#0e9981"/>
<rect x="64" y="491.0" width="4" height="22.0" fill="#0e9981"/>
<rect x="70" y="496.0" width="4" height="17.0" fill="#0e9981"/>
<rect x="76" y="501.0" width="4" height="12.0" fill="#0e9981"/>
<rect x="82" y="501.0" width="4" height="12.0" fill="#0e9981"/>
<rect x="88.5" y="489.9" width="3" height="23.1" fill="none" stroke="#0e9981" stroke-width="1"/>
<rect x="94.5" y="488.7" width="3" height="24.3" fill="none" stroke="#0e9981" stroke-width="1"/>
<rect x="100" y="490.0" width="4" height="23.0" fill="#0e9981"/>
<rect x="106.5" y="489.1" width="3" height="23.9" fill="none" stroke="#0e9981" stroke-width="1"/>
<rect x="112.5" y="487.7" width="3" height="25.3" fill="none" stroke="#0e9981" stroke-width="1"/>
<rect x="118.5" y="485.7" width="3" height="27.3" fill="none" stroke="#0e9981" stroke-width="1"/>
<rect x="124" y="490.0" width="4" height="23.0" fill="#0e9981"/>
<rect x="130" y="491.0" width="4" height="22.0" fill="#0e9981"/>
<rect x="136.5" y="489.9" width="3" height="23.1" fill="none" stroke="#0e9981" stroke-width="1"/>
<rect x="142.5" y="489.9" width="3" height="23.1" fill="none" stroke="#0e9981" stroke-width="1"/>
<rect x="148.5" y="487.7" width="3" height="25.3" fill="none" stroke="#0e9981" stroke-width="1"/>
<rect x="154" y="488.0" width="4" height="25.0" fill="#0e9981"/>
<rect x="160" y="494.0" width="4" height="19.0" fill="#0e9981"/>
<rect x="166" y="495.0" width="4" height="18.0" fill="#0e9981"/>
<rect x="172" y="501.0" width="4" height="12.0" fill="#0e9981"/>
<rect x="178" y="509.0" width="4" height="4.0" fill="#0e9981"/>
<rect x="184" y="513.0" width="4" height="3.0" fill="#f03646"/>
<rect x="190" y="513.0" width="4" height="6.0" fill="#f03646"/>
<rect x="196" y="513.0" width="4" height="11.0" fill="#f03646"/>
<rect x="202" y="513.0" width="4" height="14.0" fill="#f03646"/>
<rect x="208" y="513.0" width="4" height="15.0" fill="#f03646"/>
<rect x="214.5" y="513.0" width="3" height="13.1" fill="none" stroke="#f03646" stroke-width="1"/>
<rect x="220.5" y="513.0" width="3" height="3.3" fill="none" stroke="#f03646" stroke-width="1"/>
<rect x="226.5" y="513.0" width="3" height="3.3" fill="none" stroke="#f03646" stroke-width="1"/>
<rect x="232" y="513.0" width="4" height="4.0" fill="#f03646"/>
<rect x="238" y="513.0" width="4" height="1.0" fill="#f03646"/>
<rect x="244" y="513.0" width="4" height="4.0" fill="#f03646"/>
<rect x="250.5" y="513.0" width="3" height="4.1" fill="none" stroke="#f03646" stroke-width="1"/>
<rect x="256.5" y="513.0" width="3" height="4.1" fill="none" stroke="#f03646" stroke-width="1"/>
<rect x="262.5" y="513.0" width="3" height="3.3" fill="none" stroke="#f03646" stroke-width="1"/>
<rect x="268.5" y="510.7" width="3" height="2.3" fill="none" stroke="#0e9981" stroke-width="1"/>
<rect x="274" y="512.0" width="4" height="1.0" fill="#0e9981"/>
<rect x="280" y="513.0" width="4" height="1.0" fill="#f03646"/>
<rect x="286" y="513.0" width="4" height="9.0" fill="#f03646"/>
<rect x="292" y="513.0" width="4" height="11.0" fill="#f03646"/>
<rect x="298" y="513.0" width="4" height="11.0" fill="#f03646"/>
<rect x="304.5" y="513.0" width="3" height="9.4" fill="none" stroke="#f03646" stroke-width="1"/>
<rect x="310.5" y="513.0" width="3" height="7.3" fill="none" stroke="#f03646" stroke-width="1"/>
<rect x="316" y="513.0" width="4" height="7.0" fill="#f03646"/>
<rect x="322.5" y="513.0" width="3" height="6.1" fill="none" stroke="#f03646" stroke-width="1"/>
<rect x="328.5" y="513.0" width="3" height="4.1" fill="none" stroke="#f03646" stroke-width="1"/>
<rect x="334.5" y="513.0" width="3" height="4.1" fill="none" stroke="#f03646" stroke-width="1"/>
<rect x="340" y="513.0" width="4" height="5.0" fill="#f03646"/>
<rect x="346" y="513.0" width="4" height="10.0" fill="#f03646"/>
<rect x="352" y="513.0" width="4" height="11.0" fill="#f03646"/>
<rect x="358.5" y="513.0" width="3" height="10.3" fill="none" stroke="#f03646" stroke-width="1"/>
<rect x="364.5" y="513.0" width="3" height="10.1" fill="none" stroke="#f03646" stroke-width="1"/>
<rect x="370.5" y="513.0" width="3" height="8.9" fill="none" stroke="#f03646" stroke-width="1"/>
<rect x="376" y="513.0" width="4" height="9.0" fill="#f03646"/>
<rect x="382.5" y="513.0" width="3" height="6.9" fill="none" stroke="#f03646" stroke-width="1"/>
<rect x="388.5" y="513.0" width="3" height="6.1" fill="none" stroke="#f03646" stroke-width="1"/>
<rect x="394.5" y="513.0" width="3" height="6.1" fill="none" stroke="#f03646" stroke-width="1"/>
<rect x="400.5" y="513.0" width="3" height="5.8" fill="none" stroke="#f03646" stroke-width="1"/>
<rect x="406" y="513.0" width="4" height="6.0" fill="#f03646"/>
<rect x="412" y="513.0" width="4" height="6.0" fill="#f03646"/>
<rect x="418.5" y="513.0" width="3" height="3.1" fill="none" stroke="#f03646" stroke-width="1"/>
<rect x="424" y="513.0" width="4" height="7.0" fill="#f03646"/>
<rect x="430" y="513.0" width="4" height="15.0" fill="#f03646"/>
<rect x="436" y="513.0" width="4" height="16.0" fill="#f03646"/>
<rect x="442.5" y="513.0" width="3" height="14.1" fill="none" stroke="#f03646" stroke-width="1"/>
<rect x="448.5" y="513.0" width="3" height="11.9" fill="none" stroke="#f03646" stroke-width="1"/>
<rect x="454.5" y="513.0" width="3" height="9.9" fill="none" stroke="#f03646" stroke-width="1"/>
<rect x="460.5" y="513.0" width="3" height="7.8" fill="none" stroke="#f03646" stroke-width="1"/>
<rect x="466" y="513.0" width="4" height="9.0" fill="#f03646"/>
<rect x="472" y="513.0" width="4" height="10.0" fill="#f03646"/>
<rect x="478.5" y="513.0" width="3" height="7.8" fill="none" stroke="#f03646" stroke-width="1"/>
<rect x="484.5" y="513.0" width="3" height="6.1" fill="none" stroke="#f03646" stroke-width="1"/>
<rect x="490.5" y="513.0" width="3" height="4.9" fill="none" stroke="#f03646" stroke-width="1"/>
<rect x="496.5" y="513.0" width="3" height="3.1" fill="none" stroke="#f03646" stroke-width="1"/>
<rect x="502" y="512.0" width="4" height="1.0" fill="#0e9981"/>
<rect x="508.5" y="509.9" width="3" height="3.1" fill="none" stroke="#0e9981" stroke-width="1"/>
<rect x="514.5" y="507.9" width="3" height="5.1" fill="none" stroke="#0e9981" stroke-width="1"/>
<rect x="520.5" y="505.7" width="3" height="7.3" fill="none" stroke="#0e9981" stroke-width="1"/>
<rect x="526.5" y="504.9" width="3" height="8.1" fill="none" stroke="#0e9981" stroke-width="1"/>
<rect x="532" y="506.0" width="4" height="7.0" fill="#0e9981"/>
<rect x="538" y="509.0" width="4" height="4.0" fill="#0e9981"/>
<rect x="544" y="509.0" width="4" height="4.0" fill="#0e9981"/>
<rect x="550.5" y="507.9" width="3" height="5.1" fill="none" stroke="#0e9981" stroke-width="1"/>
<rect x="556.5" y="505.7" width="3" height="7.3" fill="none" stroke="#0e9981" stroke-width="1"/>
<rect x="562.5" y="503.7" width="3" height="9.3" fill="none" stroke="#0e9981" stroke-width="1"/>
<rect x="568.5" y="498.7" width="3" height="14.3" fill="none" stroke="#0e9981" stroke-width="1"/>
<rect x="574.5" y="494.9" width="3" height="18.1" fill="none" stroke="#0e9981" stroke-width="1"/>
<rect x="580" y="495.0" width="4" height="18.0" fill="#0e9981"/>
<rect x="586" y="498.0" width="4" height="15.0" fill="#0e9981"/>
<rect x="592" y="499.0" width="4" height="14.0" fill="#0e9981"/>
<rect x="598" y="504.0" width="4" height="9.0" fill="#0e9981"/>
<rect x="604" y="509.0" width="4" height="4.0" fill="#0e9981"/>
<rect x="610" y="512.0" width="4" height="1.0" fill="#0e9981"/>
<rect x="616" y="513.0" width="4" height="2.0" fill="#f03646"/>
<rect x="622" y="513.0" width="4" height="1.0" fill="#f03646"/>
<rect x="628" y="513.0" width="4" height="7.0" fill="#f03646"/>
<rect x="634" y="513.0" width="4" height="13.0" fill="#f03646"/>
<rect x="640" y="513.0" width="4" height="15.0" fill="#f03646"/>
<rect x="646" y="513.0" width="4" height="16.0" fill="#f03646"/>
<rect x="652.5" y="513.0" width="3" height="15.3" fill="none" stroke="#f03646" stroke-width="1"/>
<rect x="658.5" y="513.0" width="3" height="14.9" fill="none" stroke="#f03646" stroke-width="1"/>
<rect x="664.5" y="513.0" width="3" height="13.9" fill="none" stroke="#f03646" stroke-width="1"/>
<rect x="670" y="513.0" width="4" height="17.0" fill="#f03646"/>
<rect x="676.5" y="513.0" width="3" height="16.1" fill="none" stroke="#f03646" stroke-width="1"/>
<rect x="682.5" y="513.0" width="3" height="9.4" fill="none" stroke="#f03646" stroke-width="1"/>
<rect x="688.5" y="513.0" width="3" height="6.9" fill="none" stroke="#f03646" stroke-width="1"/>
<rect x="694.5" y="513.0" width="3" height="5.3" fill="none" stroke="#f03646" stroke-width="1"/>
<rect x="700.5" y="513.0" width="3" height="2.4" fill="none" stroke="#f03646" stroke-width="1"/>
<rect x="706" y="511.0" width="4" height="2.0" fill="#0e9981"/>
<rect x="712" y="513.0" width="4" height="4.0" fill="#f03646"/>
<rect x="718" y="513.0" width="4" height="6.0" fill="#f03646"/>
<rect x="724" y="513.0" width="4" height="13.0" fill="#f03646"/>
<rect x="730" y="513.0" width="4" height="16.0" fill="#f03646"/>
<rect x="736" y="513.0" width="4" height="18.0" fill="#f03646"/>
<rect x="742.5" y="513.0" width="3" height="16.9" fill="none" stroke="#f03646" stroke-width="1"/>
<rect x="748.5" y="513.0" width="3" height="16.1" fill="none" stroke="#f03646" stroke-width="1"/>
<rect x="754" y="513.0" width="4" height="17.0" fill="#f03646"/>
<rect x="760" y="513.0" width="4" height="18.0" fill="#f03646"/>
<rect x="766.5" y="513.0" width="3" height="11.9" fill="none" stroke="#f03646" stroke-width="1"/>
<rect x="772.5" y="513.0" width="3" height="6.9" fill="none" stroke="#f03646" stroke-width="1"/>
<rect x="778" y="511.0" width="4" height="2.0" fill="#0e9981"/>
<rect x="784.5" y="509.1" width="3" height="3.9" fill="none" stroke="#0e9981" stroke-width="1"/>
<rect x="790.5" y="502.9" width="3" height="10.1" fill="none" stroke="#0e9981" stroke-width="1"/>
<rect x="796.5" y="502.7" width="3" height="10.3" fill="none" stroke="#0e9981" stroke-width="1"/>
<rect x="802.5" y="500.7" width="3" height="12.3" fill="none" stroke="#0e9981" stroke-width="1"/>
<rect x="808.5" y="499.9" width="3" height="13.1" fill="none" stroke="#0e9981" stroke-width="1"/>
<rect x="814.5" y="499.1" width="3" height="13.9" fill="none" stroke="#0e9981" stroke-width="1"/>
<rect x="820.5" y="497.7" width="3" height="15.3" fill="none" stroke="#0e9981" stroke-width="1"/>
<rect x="826" y="501.0" width="4" height="12.0" fill="#0e9981"/>
<rect x="832" y="503.0" width="4" height="10.0" fill="#0e9981"/>
<rect x="838" y="506.0" width="4" height="7.0" fill="#0e9981"/>
<polyline points="12.5,536.5 18.5,536.5 24.5,534.5 30.5,533.5 36.5,532.5 42.5,529.5 48.5,521.5 54.5,516.5 60.5,513.5 66.5,511.5 72.5,512.5 78.5,513.5 84.5,511.5 90.5,502.5 96.5,499.5 102.5,497.5 108.5,492.5 114.5,488.5 120.5,485.5 126.5,484.5 132.5,482.5 138.5,479.5 144.5,476.5 150.5,472.5 156.5,469.5 162.5,469.5 168.5,467.5 174.5,470.5 180.5,472.5 186.5,476.5 192.5,478.5 198.5,481.5 204.5,485.5 210.5,488.5 216.5,488.5 222.5,484.5 228.5,484.5 234.5,485.5 240.5,484.5 246.5,486.5 252.5,486.5 258.5,487.5 264.5,486.5 270.5,484.5 276.5,485.5 282.5,486.5 288.5,490.5 294.5,493.5 300.5,494.5 306.5,494.5 312.5,494.5 318.5,495.5 324.5,495.5 330.5,495.5 336.5,495.5 342.5,496.5 348.5,500.5 354.5,502.5 360.5,503.5 366.5,503.5 372.5,504.5 384.5,505.5 396.5,506.5 408.5,507.5 414.5,508.5 420.5,507.5 426.5,510.5 432.5,515.5 438.5,518.5 444.5,519.5 450.5,520.5 456.5,520.5 462.5,520.5 468.5,521.5 474.5,523.5 480.5,523.5 486.5,523.5 492.5,523.5 498.5,522.5 504.5,520.5 510.5,518.5 516.5,516.5 522.5,514.5 528.5,513.5 534.5,513.5 540.5,514.5 546.5,514.5 552.5,512.5 558.5,511.5 564.5,509.5 570.5,505.5 576.5,500.5 582.5,497.5 588.5,497.5 594.5,496.5 600.5,497.5 606.5,499.5 612.5,500.5 618.5,502.5 624.5,502.5 630.5,505.5 636.5,510.5 642.5,513.5 648.5,516.5 654.5,518.5 660.5,520.5 666.5,522.5 672.5,524.5 678.5,525.5 684.5,524.5 690.5,523.5 696.5,522.5 702.5,521.5 708.5,519.5 714.5,522.5 720.5,524.5 726.5,529.5 732.5,532.5 738.5,536.5 744.5,537.5 750.5,540.5 756.5,542.5 762.5,544.5 768.5,543.5 774.5,541.5 780.5,537.5 786.5,535.5 792.5,531.5 798.5,529.5 804.5,527.5 810.5,524.5 816.5,522.5 822.5,520.5 828.5,520.5 834.5,520.5 840.5,521.5" fill="none" stroke="#ff9600" stroke-width="1.1" stroke-linejoin="round"/>
<polyline points="12.5,539.5 24.5,538.5 36.5,536.5 48.5,532.5 54.5,529.5 60.5,525.5 72.5,520.5 78.5,519.5 84.5,517.5 90.5,514.5 96.5,511.5 102.5,507.5 108.5,504.5 114.5,501.5 120.5,498.5 126.5,495.5 132.5,492.5 138.5,489.5 144.5,486.5 150.5,483.5 156.5,480.5 162.5,478.5 168.5,476.5 174.5,474.5 180.5,474.5 186.5,475.5 192.5,476.5 198.5,478.5 204.5,479.5 210.5,481.5 216.5,482.5 222.5,483.5 228.5,483.5 234.5,483.5 240.5,483.5 246.5,484.5 252.5,484.5 258.5,485.5 264.5,485.5 270.5,485.5 276.5,485.5 282.5,485.5 288.5,486.5 294.5,487.5 300.5,489.5 306.5,490.5 312.5,491.5 318.5,492.5 324.5,492.5 330.5,493.5 336.5,493.5 342.5,494.5 348.5,495.5 354.5,497.5 360.5,498.5 366.5,499.5 372.5,500.5 384.5,502.5 396.5,503.5 408.5,505.5 420.5,506.5 432.5,508.5 438.5,510.5 444.5,512.5 450.5,514.5 456.5,515.5 462.5,517.5 468.5,517.5 474.5,518.5 480.5,520.5 486.5,520.5 492.5,521.5 498.5,521.5 504.5,521.5 510.5,520.5 516.5,519.5 522.5,518.5 528.5,517.5 534.5,517.5 540.5,516.5 546.5,515.5 552.5,514.5 558.5,513.5 564.5,512.5 570.5,510.5 576.5,508.5 582.5,506.5 588.5,504.5 594.5,503.5 600.5,502.5 606.5,501.5 612.5,501.5 618.5,501.5 624.5,501.5 630.5,502.5 636.5,504.5 642.5,506.5 648.5,508.5 654.5,509.5 660.5,511.5 666.5,513.5 672.5,515.5 678.5,517.5 684.5,518.5 690.5,519.5 696.5,520.5 702.5,520.5 708.5,520.5 714.5,520.5 720.5,521.5 726.5,523.5 732.5,525.5 738.5,527.5 744.5,530.5 750.5,532.5 756.5,534.5 762.5,536.5 768.5,537.5 774.5,538.5 780.5,538.5 786.5,538.5 792.5,536.5 798.5,535.5 804.5,533.5 810.5,531.5 816.5,529.5 822.5,527.5 828.5,526.5 834.5,525.5 840.5,524.5" fill="none" stroke="#935ebd" stroke-width="1.1" stroke-linejoin="round"/>
<line x1="8" x2="1061" y1="347.5" y2="347.5" stroke="#d9dce6" stroke-width="1" stroke-dasharray="4 2"/>
<line x1="576.5" x2="576.5" y1="59" y2="552" stroke="#d9dce6" stroke-width="1" stroke-dasharray="4 2"/>
<text x="1068.2" y="82.6" font-size="11" fill="#0d0d0d">1.30000</text>
<text x="1068.2" y="119.6" font-size="11" fill="#0d0d0d">1.29000</text>
<text x="1068.2" y="155.6" font-size="11" fill="#0d0d0d">1.28000</text>
<text x="1068.2" y="192.6" font-size="11" fill="#0d0d0d">1.27000</text>
<text x="1068.2" y="229.6" font-size="11" fill="#0d0d0d">1.26000</text>
<text x="1068.2" y="265.6" font-size="11" fill="#0d0d0d">1.25000</text>
<text x="1068.2" y="302.6" font-size="11" fill="#0d0d0d">1.24000</text>
<text x="1068.2" y="338.6" font-size="11" fill="#0d0d0d">1.23000</text>
<text x="1068.2" y="375.6" font-size="11" fill="#0d0d0d">1.22000</text>
<text x="1068.2" y="412.6" font-size="11" fill="#0d0d0d">1.21000</text>
<text x="1068.2" y="466.6" font-size="11" fill="#0d0d0d">0.0120</text>
<text x="1068.2" y="490.6" font-size="11" fill="#0d0d0d">0.0060</text>
<text x="1068.2" y="515.6" font-size="11" fill="#0d0d0d">0.0000</text>
<text x="1068.2" y="540.6" font-size="11" fill="#0d0d0d">-0.0060</text>
<text x="126.5" y="567.6" font-size="11" fill="#0d0d0d" text-anchor="middle">2023</text>
<text x="246.5" y="567.6" font-size="11" fill="#0d0d0d" text-anchor="middle">2023-12</text>
<text x="366.5" y="567.6" font-size="11" fill="#0d0d0d" text-anchor="middle">2024</text>
<text x="486.5" y="567.6" font-size="11" fill="#0d0d0d" text-anchor="middle">2024-02</text>
<text x="606.5" y="567.6" font-size="11" fill="#0d0d0d" text-anchor="middle">2024-03</text>
<text x="726.5" y="567.6" font-size="11" fill="#0d0d0d" text-anchor="middle">2024-04</text>
<rect x="1061" y="264" width="49" height="16" rx="1.5" fill="#f03646"/>
<text x="1064" y="275" font-size="12" fill="#fff" stroke="#fff" stroke-width="0.3">1.24754</text>
<rect x="1061.5" y="338.4" width="47.5" height="16.7" rx="1.5" fill="#66a3f8" stroke="#5579b3" stroke-width="1"/>
<text x="1064" y="350.2" font-size="12" fill="#fff" stroke="#fff" stroke-width="0.3">1.22709</text>
<rect x="526" y="552.5" width="100.5" height="17.5" rx="2" fill="#66a3f8" stroke="#5579b3" stroke-width="1"/>
<text x="575.9" y="563.8" font-size="12" fill="#fff" stroke="#fff" stroke-width="0.3" text-anchor="middle">2024-03-08 06:00</text>
<text x="16" y="73.4" font-size="10"><tspan x="16" fill="#333">MA(5,10,30,60)</tspan><tspan x="101" fill="#ff9600">MA5: 1.27563</tspan><tspan x="179" fill="#935ebd">MA10: 1.27069</tspan><tspan x="263" fill="#2196f3">MA30: 1.26563</tspan><tspan x="347" fill="#e11d74">MA60: 1.26811</tspan></text>
<text x="16" y="466.2" font-size="10"><tspan x="16" fill="#333">MACD(12,26,9)</tspan><tspan x="101" fill="#ff9600">DIF: 0.0033</tspan><tspan x="169" fill="#935ebd">DEA: 0.0011</tspan><tspan x="241" fill="#0e9981">MACD: 0.0045</tspan></text>
</svg>
<div class="abs panel">
  <svg class="abs" style="left:0;top:0" width="277" height="56" viewBox="0 0 277 56">
    <path d="M28 10 H137.500 a3 3 0 0 1 2.8 4 L130 42 a6 6 0 0 1 -5.600 4 H28 a6 6 0 0 1 -6 -6 V16 a6 6 0 0 1 6 -6 z" fill="#f03646"/>
    <path d="M161.500 10 H256 a6 6 0 0 1 6 6 V40 a6 6 0 0 1 -6 6 H146.500 a3 3 0 0 1 -2.800 -4 L155.800 14 a6 6 0 0 1 5.700 -4 z" fill="#0e9981"/>
    <g fill="#fff"><rect x="8" y="20" width="2" height="2"/><rect x="13" y="20" width="2" height="2"/><rect x="8" y="26" width="2" height="2"/><rect x="13" y="26" width="2" height="2"/><rect x="8" y="32" width="2" height="2"/><rect x="13" y="32" width="2" height="2"/></g>
  </svg>
  <div class="btn" style="left:22px;width:120px">卖出 1.24754</div>
  <div class="btn" style="left:142px;width:120px">买入 1.24762</div>
</div>
<div class="abs tabs"><span class="tab" style="left:0.3px">分时</span><span class="tab" style="left:51.6px">2日</span><span class="tab" style="left:96.4px">1分</span><span class="tab" style="left:142.2px">5分</span><span class="tab" style="left:188.2px">15分</span><span class="tab" style="left:240.4px">30分</span><span class="tab" style="left:292.9px">1小时</span><span class="tab" style="left:350.3px">2小时</span><span class="tab" style="left:407.8px">4小时</span><span class="tab on" style="left:464.3px">日K</span><span class="tab" style="left:513.1px">周K</span><span class="tab" style="left:560.0px">月K</span></div>
</body></html>
